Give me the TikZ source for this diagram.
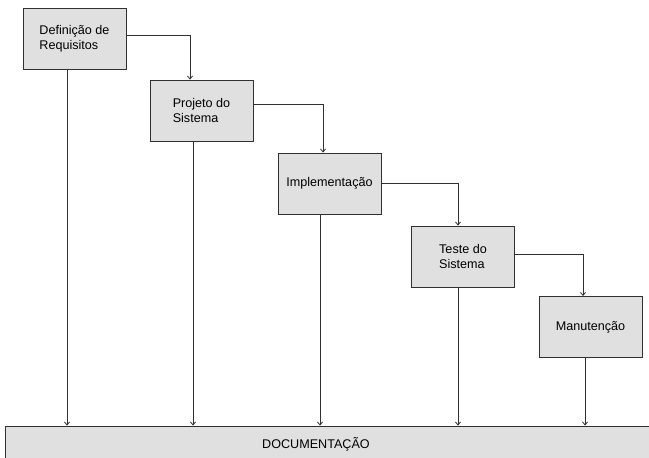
\documentclass[tikz,border=0pt]{standalone}
\usepackage{fontspec}
\setmainfont{Liberation Sans}
\usetikzlibrary{arrows.meta,calc}
\definecolor{boxfill}{HTML}{E0E0E0}
\definecolor{edge}{HTML}{303030}
\tikzset{
  stage/.style={draw=edge, line width=0.9pt, fill=boxfill, minimum width=103pt, minimum height=61pt,
    align=left, inner sep=0pt, font=\fontsize{12.6}{15}\selectfont},
  arr/.style={draw=edge, line width=0.8pt, -{Straight Barb[length=3pt,width=5pt]}}
}
\begin{document}
\begin{tikzpicture}[x=1pt,y=-1pt]
\useasboundingbox[fill=white] (0,0) rectangle (649,458);
\node[stage] (req) at (74.5,38.5) {Definição de\\Requisitos};
\node[stage] (proj) at (201.5,110.5) {Projeto do\\Sistema};
\node[stage] (impl) at (329.5,183.5) {Implementação};
\node[stage] (test) at (463,256.5) {Teste do\\Sistema};
\node[stage] (man) at (590.5,327) {Manutenção};
\node[draw=edge, line width=0.9pt, fill=boxfill, minimum width=656pt, minimum height=40pt, inner sep=0pt,
  label={[font=\fontsize{12.6}{15}\selectfont, xshift=-17pt, yshift=2pt]center:DOCUMENTAÇÃO}]
  (doc) at (333,446) {};
% flow
\draw[arr] ([yshift=3.5pt]req.east) -| ([xshift=-11.5pt]proj.north);
\draw[arr] ([yshift=6.5pt]proj.east) -| ([xshift=-6.5pt]impl.north);
\draw[arr] (impl.east) -| ([xshift=-5pt]test.north);
\draw[arr] ([yshift=2.5pt]test.east) -| ([xshift=-7.5pt]man.north);
% documentation
\draw[arr] ([xshift=-7.5pt]req.south) -- ([xshift=-7.5pt]req.south |- doc.north);
\draw[arr] ([xshift=-8.5pt]proj.south) -- ([xshift=-8.5pt]proj.south |- doc.north);
\draw[arr] ([xshift=-9.5pt]impl.south) -- ([xshift=-9.5pt]impl.south |- doc.north);
\draw[arr] ([xshift=-5pt]test.south) -- ([xshift=-5pt]test.south |- doc.north);
\draw[arr] ([xshift=-5.5pt]man.south) -- ([xshift=-5.5pt]man.south |- doc.north);
\end{tikzpicture}
\end{document}
